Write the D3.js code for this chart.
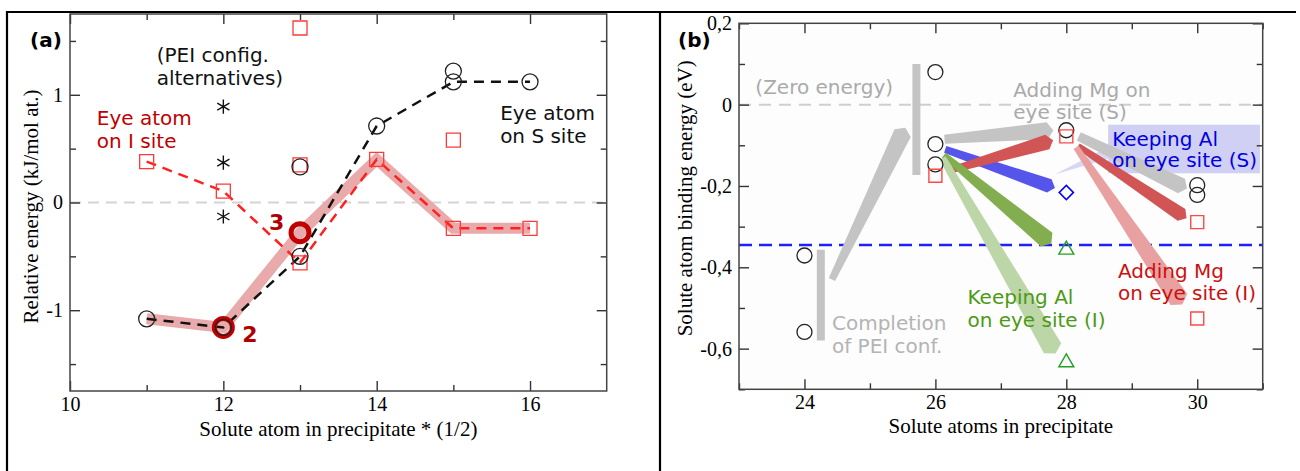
<!DOCTYPE html>
<html>
<head>
<meta charset="utf-8">
<script src="https://cdn.jsdelivr.net/npm/d3@7"></script>
<style>
body { margin: 0; background: #fff; }
.tick text { font-family: "Liberation Serif", serif; font-size: 20px; fill: #000; }
.tick line { stroke: #333; stroke-width: 1.4; }
.ann { font-family: "DejaVu Sans", sans-serif; font-size: 20px; }
.title { font-family: "Liberation Serif", serif; font-size: 21px; fill: #000; }
</style>
</head>
<body>
<svg width="1300" height="471"></svg>
<script>
// ---- panel (a) data ----
var sizesA = [11, 12, 13, 14, 15, 16];
var sSiteA = [-1.08, -1.16, -0.50, 0.71, 1.12, 1.12];     // eye atom on S site (black, dashed)
var iSiteA = [0.38, 0.105, -0.56, 0.40, -0.24, -0.24];    // eye atom on I site (red, dashed)
var lowestA = [-1.08, -1.16, -0.28, 0.40, -0.24, -0.24];  // lowest-energy path (pink band)
var sExtraA = [[13, 0.33], [15, 1.22]];
var iExtraA = [[13, 1.62], [13, 0.35], [15, 0.58]];
var peiAltA = [[12, 0.89], [12, 0.37], [12, -0.13]];
var stableA = [[12, -1.16], [13, -0.28]];
var stableLabelsA = ["2", "3"];
var xTicksA = [10, 12, 14, 16], xMinorA = [11, 13, 15];
var yTicksA = [-1, 0, 1], yMinorA = [-1.5, -0.5, 0.5, 1.5];

// ---- panel (b) data ----
var circlesB = [[24, -0.371], [24, -0.559], [26, 0.08], [26, -0.097], [26, -0.147], [28, -0.063], [30, -0.198], [30, -0.222]];
var squaresB = [[26, -0.175], [28, -0.078], [30, -0.289], [30, -0.526]];
var diamondsB = [[28, -0.216]];
var trianglesB = [[28, -0.357], [28, -0.634]];
var blueLevelB = -0.345;
var barsB = [[25.71, 0.10, -0.173], [24.25, -0.357, -0.58]];
var arrowFromB = [[24.42, -0.43], [26.14, -0.085], [28.19, -0.078], [26.15, -0.11], [26.17, -0.164], [28.18, -0.102], [28.15, -0.105], [26.13, -0.124], [26.11, -0.131]];
var arrowToB   = [[25.50, -0.07], [27.71, -0.064], [29.76, -0.20], [27.74, -0.20], [27.71, -0.092], [29.76, -0.271], [29.72, -0.479], [27.70, -0.332], [27.79, -0.599]];
var xTicksB = [24, 26, 28, 30], xMinorB = [23, 25, 27, 29, 31];
var yTicksB = [-0.6, -0.4, -0.2, 0, 0.2], yMinorB = [-0.7, -0.5, -0.3, -0.1, 0.1];

// arrow look, same order as the arrays above
var arrowStyle = [
  {fill: "#c4c4c4", w0: 7, w1: 18},
  {fill: "#c4c4c4", w0: 9, w1: 17},
  {fill: "#c4c4c4", w0: 9, w1: 16},
  {fill: "#5555eb", w0: 7, w1: 14},
  {fill: "#d25555", w0: 6, w1: 15},
  {fill: "#d25555", w0: 6, w1: 14},
  {fill: "#e8a0a0", w0: 6, w1: 20},
  {fill: "#82ae50", w0: 6, w1: 18},
  {fill: "#bcd6a8", w0: 7, w1: 20}
];

var svg = d3.select("svg");

// outer frame
svg.append("path").attr("d", "M7,471V12H1296M660,12V471")
  .attr("fill", "none").attr("stroke", "#000").attr("stroke-width", 2.2);

function tickOnly(sel) { sel.selectAll("text").remove(); }

function drawAxes(g, x, y, W, H, xMaj, xMin, yMaj, yMin, yFmt, pad) {
  g.append("g").attr("transform", "translate(0," + H + ")")
    .call(d3.axisBottom(x).tickValues(xMaj).tickSize(-10).tickSizeOuter(0).tickPadding(pad).tickFormat(d3.format("d")));
  g.append("g").attr("transform", "translate(0," + H + ")")
    .call(d3.axisBottom(x).tickValues(xMin).tickSize(-6).tickSizeOuter(0)).call(tickOnly);
  g.append("g").call(d3.axisTop(x).tickValues(xMaj).tickSize(-10).tickSizeOuter(0)).call(tickOnly);
  g.append("g").call(d3.axisTop(x).tickValues(xMin).tickSize(-6).tickSizeOuter(0)).call(tickOnly);
  g.append("g").call(d3.axisLeft(y).tickValues(yMaj).tickSize(-10).tickSizeOuter(0).tickPadding(7).tickFormat(yFmt));
  g.append("g").call(d3.axisLeft(y).tickValues(yMin).tickSize(-6).tickSizeOuter(0)).call(tickOnly);
  g.append("g").attr("transform", "translate(" + W + ",0)")
    .call(d3.axisRight(y).tickValues(yMaj).tickSize(-10).tickSizeOuter(0)).call(tickOnly);
  g.append("g").attr("transform", "translate(" + W + ",0)")
    .call(d3.axisRight(y).tickValues(yMin).tickSize(-6).tickSizeOuter(0)).call(tickOnly);
  g.selectAll(".domain").remove();
  g.append("rect").attr("width", W).attr("height", H)
    .attr("fill", "none").attr("stroke", "#444").attr("stroke-width", 1.5);
}

function dashLine(g, x, y, pts, color, width, dash) {
  g.append("path").datum(pts)
    .attr("d", d3.line().x(function(d) { return x(d[0]); }).y(function(d) { return y(d[1]); }))
    .attr("fill", "none").attr("stroke", color).attr("stroke-width", width)
    .attr("stroke-dasharray", dash);
}

// ================= panel (a) =================
var WA = 536.7, HA = 377;
var xA = d3.scaleLinear().domain([10, 17]).range([0, WA]);
var yA = d3.scaleLinear().domain([-1.75, 1.75]).range([HA, 0]);
var gA = svg.append("g").attr("transform", "translate(70,14)");

gA.append("line").attr("x1", 0).attr("x2", WA).attr("y1", yA(0)).attr("y2", yA(0))
  .attr("stroke", "#d4d4d4").attr("stroke-width", 2).attr("stroke-dasharray", "11,7");

gA.append("path").datum(sizesA.map(function(s, i) { return [s, lowestA[i]]; }))
  .attr("d", d3.line().x(function(d) { return xA(d[0]); }).y(function(d) { return yA(d[1]); }))
  .attr("fill", "none").attr("stroke", "#e8aaaa").attr("stroke-width", 11);

dashLine(gA, xA, yA, sizesA.map(function(s, i) { return [s, iSiteA[i]]; }), "#ff2020", 2.5, "10,7");
dashLine(gA, xA, yA, sizesA.map(function(s, i) { return [s, sSiteA[i]]; }), "#111", 2.5, "10,7");

gA.selectAll(".ring").data(stableA).enter().append("circle")
  .attr("cx", function(d) { return xA(d[0]); }).attr("cy", function(d) { return yA(d[1]); })
  .attr("r", 9).attr("fill", "none").attr("stroke", "#c00000").attr("stroke-width", 5);

var sqA = d3.symbol(d3.symbolSquare, 196);
gA.selectAll(".sq").data(sizesA.map(function(s, i) { return [s, iSiteA[i]]; }).concat(iExtraA))
  .enter().append("path").attr("d", sqA)
  .attr("transform", function(d) { return "translate(" + xA(d[0]) + "," + yA(d[1]) + ")"; })
  .attr("fill", "none").attr("stroke", "#ff3838").attr("stroke-width", 1.3);

gA.selectAll(".ci").data(sizesA.map(function(s, i) { return [s, sSiteA[i]]; }).concat(sExtraA))
  .enter().append("circle")
  .attr("cx", function(d) { return xA(d[0]); }).attr("cy", function(d) { return yA(d[1]); })
  .attr("r", 8).attr("fill", "none").attr("stroke", "#222").attr("stroke-width", 1.3);

gA.selectAll(".ast").data(peiAltA).enter().append("path")
  .attr("d", d3.symbol(d3.symbolAsterisk, 139))
  .attr("transform", function(d) { return "translate(" + xA(d[0]) + "," + yA(d[1]) + ")"; })
  .attr("fill", "none").attr("stroke", "#111").attr("stroke-width", 1.4);

gA.selectAll(".lab").data(stableA).enter().append("text")
  .attr("class", "ann")
  .attr("x", function(d, i) { return xA(d[0]) + (i === 0 ? 19 : -31); })
  .attr("y", function(d, i) { return yA(d[1]) + (i === 0 ? 15 : -3); })
  .style("font-weight", "bold").style("font-size", "22px").attr("fill", "#b00000")
  .text(function(d, i) { return stableLabelsA[i]; });

drawAxes(gA, xA, yA, WA, HA, xTicksA, xMinorA, yTicksA, yMinorA,
  function(d) { return d < 0 ? "-" + (-d) : String(d); }, 6);

gA.append("text").attr("class", "title").attr("text-anchor", "middle")
  .attr("x", WA / 2).attr("y", HA + 45).text("Solute atom in precipitate * (1/2)");
gA.append("text").attr("class", "title").attr("text-anchor", "middle")
  .attr("transform", "translate(-32," + (HA / 2 + 4) + ") rotate(-90)")
  .text("Relative energy (kJ/mol at.)");

svg.append("text").attr("class", "ann").attr("x", 30).attr("y", 47).style("font-weight", "bold").text("(a)");
var tA = [
  [11.13, 1.306, "(PEI config.", "#111"], [11.13, 1.09, "alternatives)", "#111"],
  [10.35, 0.72, "Eye atom", "#c00000"], [10.35, 0.51, "on I site", "#c00000"],
  [15.61, 0.77, "Eye atom", "#111"], [15.61, 0.55, "on S site", "#111"]
];
tA.forEach(function(t) {
  gA.append("text").attr("class", "ann").attr("x", xA(t[0])).attr("y", yA(t[1]))
    .attr("fill", t[3]).text(t[2]);
});

// ================= panel (b) =================
var WB = 523.7, HB = 366;
var xB = d3.scaleLinear().domain([23, 31]).range([0, WB]);
var yB = d3.scaleLinear().domain([-0.7, 0.2]).range([HB, 0]);
var gB = svg.append("g").attr("transform", "translate(739,23.3)");

gB.append("rect").attr("width", WB).attr("height", HB).attr("fill", "#fdfdfd");
var bgLayer = gB.append("g"), arrowLayer = gB.append("g"), markLayer = gB.append("g"), textLayer = gB.append("g");

bgLayer.append("line").attr("x1", 0).attr("x2", WB).attr("y1", yB(0)).attr("y2", yB(0))
  .attr("stroke", "#cfcfcf").attr("stroke-width", 2).attr("stroke-dasharray", "12,8");
bgLayer.append("line").attr("x1", 0).attr("x2", WB).attr("y1", yB(blueLevelB)).attr("y2", yB(blueLevelB))
  .attr("stroke", "#2020ff").attr("stroke-width", 2.5).attr("stroke-dasharray", "13,7");

bgLayer.selectAll(".bar").data(barsB).enter().append("line")
  .attr("x1", function(d) { return xB(d[0]); }).attr("x2", function(d) { return xB(d[0]); })
  .attr("y1", function(d) { return yB(d[1]); }).attr("y2", function(d) { return yB(d[2]); })
  .attr("stroke", "#c4c4c4").attr("stroke-width", 8);

function arrowPath(a, b, w0, w1) {
  var ax = xB(a[0]), ay = yB(a[1]), bx = xB(b[0]), by = yB(b[1]);
  var dx = bx - ax, dy = by - ay, L = Math.sqrt(dx * dx + dy * dy);
  dx /= L; dy /= L;
  var nx = -dy, ny = dx, tip = 6;
  var p = [
    [ax + nx * w0 / 2, ay + ny * w0 / 2],
    [bx + nx * w1 / 2, by + ny * w1 / 2],
    [bx + dx * tip, by + dy * tip],
    [bx - nx * w1 / 2, by - ny * w1 / 2],
    [ax - nx * w0 / 2, ay - ny * w0 / 2]
  ];
  return "M" + p.join("L") + "Z";
}

arrowLayer.selectAll(".arr").data(arrowFromB).enter().append("path")
  .attr("d", function(d, i) { return arrowPath(d, arrowToB[i], arrowStyle[i].w0, arrowStyle[i].w1); })
  .attr("fill", function(d, i) { return arrowStyle[i].fill; });

markLayer.selectAll(".ci").data(circlesB).enter().append("circle")
  .attr("cx", function(d) { return xB(d[0]); }).attr("cy", function(d) { return yB(d[1]); })
  .attr("r", 7.5).attr("fill", "none").attr("stroke", "#222").attr("stroke-width", 1.3);
markLayer.selectAll(".sq").data(squaresB).enter().append("path")
  .attr("d", d3.symbol(d3.symbolSquare, 169))
  .attr("transform", function(d) { return "translate(" + xB(d[0]) + "," + yB(d[1]) + ")"; })
  .attr("fill", "none").attr("stroke", "#ff4848").attr("stroke-width", 1.4);
markLayer.selectAll(".di").data(diamondsB).enter().append("path")
  .attr("d", d3.symbol(d3.symbolSquare, 100))
  .attr("transform", function(d) { return "translate(" + xB(d[0]) + "," + yB(d[1]) + ") rotate(45)"; })
  .attr("fill", "none").attr("stroke", "#0000ff").attr("stroke-width", 1.6);
markLayer.selectAll(".tr").data(trianglesB).enter().append("path")
  .attr("d", d3.symbol(d3.symbolTriangle2, 160))
  .attr("transform", function(d) { return "translate(" + xB(d[0]) + "," + yB(d[1]) + ")"; })
  .attr("fill", "none").attr("stroke", "#22a022").attr("stroke-width", 1.4);

var tB = [
  [23.25, 0.025, "(Zero energy)", "#aaaaaa"],
  [27.19, 0.018, "Adding Mg on", "#aaaaaa"], [27.19, -0.036, "eye site (S)", "#aaaaaa"],
  [28.79, -0.426, "Adding Mg", "#cc1010"], [28.79, -0.481, "on eye site (I)", "#cc1010"],
  [26.49, -0.491, "Keeping Al", "#4c9a14"], [26.49, -0.548, "on eye site (I)", "#4c9a14"],
  [24.42, -0.553, "Completion", "#b4b4b4"], [24.42, -0.611, "of PEI conf.", "#b4b4b4"]
];
tB.forEach(function(t) {
  textLayer.append("text").attr("class", "ann").attr("x", xB(t[0])).attr("y", yB(t[1]))
    .attr("fill", t[3]).text(t[2]);
});

// blue call-out with its lavender box
var keepS = textLayer.append("g");
keepS.append("text").attr("class", "ann").attr("x", xB(28.70)).attr("y", yB(-0.101)).attr("fill", "#0000e0").text("Keeping Al");
keepS.append("text").attr("class", "ann").attr("x", xB(28.70)).attr("y", yB(-0.154)).attr("fill", "#0000e0").text("on eye site (S)");
var bb = keepS.node().getBBox();
bgLayer.append("rect").attr("x", bb.x - 4).attr("y", bb.y - 2).attr("width", bb.width + 7).attr("height", bb.height + 3)
  .attr("fill", "#c8c8f2").attr("opacity", 0.85);
bgLayer.append("path")
  .attr("d", "M" + xB(27.82) + "," + yB(-0.172) + "L" + (bb.x - 4) + "," + (bb.y + 20) + "L" + (bb.x - 4) + "," + (bb.y + 32) + "Z")
  .attr("fill", "#c8c8f2").attr("opacity", 0.7);

drawAxes(gB, xB, yB, WB, HB, xTicksB, xMinorB, yTicksB, yMinorB,
  function(d) { return d === 0 ? "0" : (d < 0 ? "-" : "") + Math.abs(d).toFixed(1).replace(".", ","); }, 6);

gB.append("text").attr("class", "title").attr("text-anchor", "middle")
  .attr("x", WB / 2).attr("y", HB + 44).text("Solute atoms in precipitate");
gB.append("text").attr("class", "title").attr("text-anchor", "middle")
  .attr("transform", "translate(-47," + (HB / 2 - 8) + ") rotate(-90)")
  .text("Solute atom binding energy (eV)");

svg.append("text").attr("class", "ann").attr("x", 678).attr("y", 47).style("font-weight", "bold").text("(b)");
</script>
</body>
</html>
